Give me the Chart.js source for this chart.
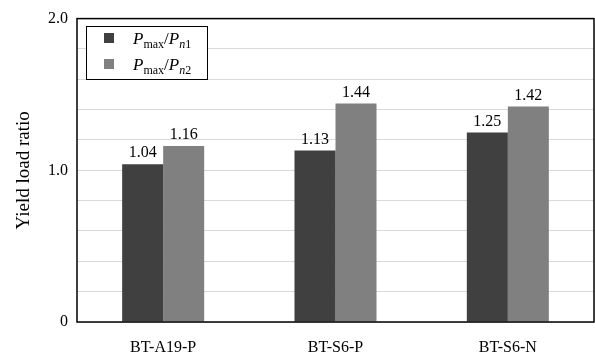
<!DOCTYPE html>
<html>
<head>
<meta charset="utf-8">
<script src="https://cdn.jsdelivr.net/npm/chart.js@4"></script>
<style>
  html, body { margin: 0; padding: 0; background: #fff; }
  #wrap { width: 595px; height: 353px; position: relative; }
</style>
</head>
<body>
<div id="wrap"><canvas id="ratio-chart"></canvas></div>
<script>
const specimens = ["BT-A19-P", "BT-S6-P", "BT-S6-N"];
const ratioN1 = [1.04, 1.13, 1.25];
const ratioN2 = [1.16, 1.44, 1.42];
const labelledTicks = [0, 1.0, 2.0];

const SERIF = "'Liberation Serif', 'Times New Roman', serif";
const DARK = "#404040";
const LIGHT = "#808080";

// Values printed above each bar
const barValues = {
    id: "barValues",
    afterDatasetsDraw(chart) {
        const ctx = chart.ctx;
        ctx.save();
        ctx.font = "16px " + SERIF;
        ctx.fillStyle = "#000";
        ctx.textAlign = "center";
        ctx.textBaseline = "bottom";
        chart.data.datasets.forEach((ds, i) => {
            chart.getDatasetMeta(i).data.forEach((bar, j) => {
                ctx.fillText(ds.data[j].toFixed(2), bar.x, bar.y - 3);
            });
        });
        ctx.restore();
    },
};

// Black frame round the plot area
const plotFrame = {
    id: "plotFrame",
    afterDraw(chart) {
        const { left, top, right, bottom } = chart.chartArea;
        const ctx = chart.ctx;
        ctx.save();
        ctx.strokeStyle = "#000";
        ctx.lineWidth = 1.5;
        ctx.strokeRect(left, top, right - left, bottom - top);
        ctx.restore();
    },
};

// Legend with P_max / P_n subscripts
function drawRatio(ctx, x, y, idx) {
    const big = "italic 17px " + SERIF;
    const sub = "12px " + SERIF;
    const subIt = "italic 12px " + SERIF;
    const parts = [
        [big, "P", 0],
        [sub, "max", 4],
        ["17px " + SERIF, "/", 0],
        [big, "P", 0],
        [subIt, "n", 4],
        [sub, idx, 4],
    ];
    parts.forEach(([font, text, dy]) => {
        ctx.font = font;
        ctx.fillText(text, x, y + dy);
        x += ctx.measureText(text).width;
    });
}

const ratioLegend = {
    id: "ratioLegend",
    afterDraw(chart) {
        const ctx = chart.ctx;
        const x0 = 86, y0 = 26, w = 121, h = 53;
        ctx.save();
        ctx.fillStyle = "#fff";
        ctx.fillRect(x0, y0, w, h);
        ctx.strokeStyle = "#000";
        ctx.lineWidth = 1;
        ctx.strokeRect(x0 + 0.5, y0 + 0.5, w, h);
        ctx.textBaseline = "alphabetic";
        ctx.textAlign = "left";
        const rows = [[DARK, "1", 38], [LIGHT, "2", 64]];
        rows.forEach(([color, idx, cy]) => {
            ctx.fillStyle = color;
            ctx.fillRect(104, cy - 5, 10, 10);
            ctx.fillStyle = "#000";
            drawRatio(ctx, 133, cy + 6, idx);
        });
        ctx.restore();
    },
};

function ratioChart() {
    const ctx = document.getElementById("ratio-chart").getContext("2d");

    const config = {
        type: "bar",
        data: {
            labels: specimens,
            datasets: [
                {
                    label: "Pmax/Pn1",
                    data: ratioN1,
                    backgroundColor: DARK,
                    borderWidth: 0,
                },
                {
                    label: "Pmax/Pn2",
                    data: ratioN2,
                    backgroundColor: LIGHT,
                    borderWidth: 0,
                },
            ],
        },
        options: {
            responsive: true,
            maintainAspectRatio: false,
            animation: false,
            layout: { padding: { top: 16, right: 1, left: 0, bottom: 0 } },
            datasets: {
                bar: { categoryPercentage: 0.476, barPercentage: 1 },
            },
            plugins: {
                legend: { display: false },
                tooltip: { enabled: false },
            },
            scales: {
                x: {
                    grid: { display: false },
                    border: { display: false },
                    ticks: {
                        color: "#000",
                        font: { family: SERIF, size: 16 },
                        padding: 8,
                    },
                    afterFit(scale) {
                        scale.height = 31;
                    },
                },
                y: {
                    min: 0,
                    max: 2.0,
                    grid: {
                        color: "#d9d9d9",
                        lineWidth: 1,
                        drawTicks: false,
                    },
                    border: { display: false },
                    ticks: {
                        stepSize: 0.2,
                        autoSkip: false,
                        color: "#000",
                        font: { family: SERIF, size: 16 },
                        padding: 9,
                        callback(value) {
                            const hit = labelledTicks.find((t) => Math.abs(t - value) < 1e-6);
                            if (hit === undefined) return "";
                            return hit === 0 ? "0" : hit.toFixed(1);
                        },
                    },
                    title: {
                        display: true,
                        text: "Yield load ratio",
                        color: "#000",
                        font: { family: SERIF, size: 19 },
                        padding: { top: 13, bottom: 0 },
                    },
                    afterFit(scale) {
                        scale.width = 77;
                    },
                },
            },
        },
        plugins: [barValues, plotFrame, ratioLegend],
    };

    new Chart(ctx, config);
}

document.addEventListener("DOMContentLoaded", ratioChart);
</script>
</body>
</html>
